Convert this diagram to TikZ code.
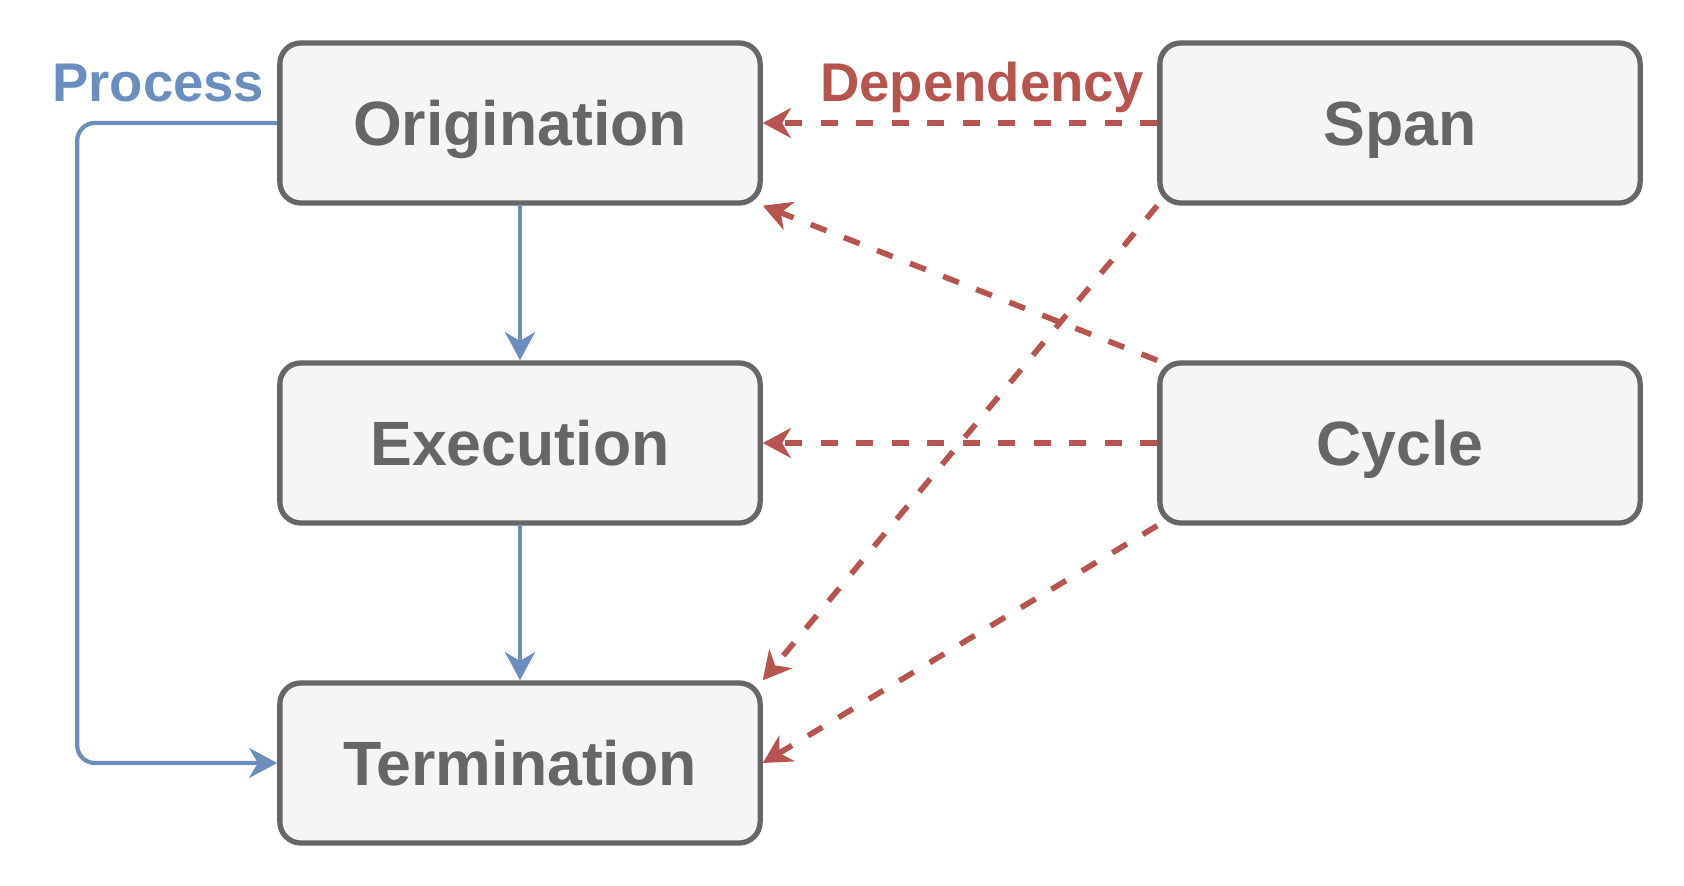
\documentclass[tikz,border=0pt]{standalone}
\usepackage{fontspec}
\setmainfont{Liberation Sans}
\usetikzlibrary{arrows.meta}
\definecolor{boxfill}{HTML}{F5F5F5}
\definecolor{boxline}{HTML}{666666}
\definecolor{procblue}{HTML}{6C8EBF}
\definecolor{depred}{HTML}{B85450}
\begin{document}
\begin{tikzpicture}[x=0.01cm, y=-0.01cm,
    stagebox/.style={draw=boxline, fill=boxfill, line width=1.5pt, rounded corners=6pt,
        minimum width=4.8cm, minimum height=1.6cm, text=boxline,
        font=\fontsize{17.8}{20}\selectfont\bfseries, text height=13pt, text depth=0pt},
    procline/.style={draw=procblue, line width=1.2pt, -{Stealth[length=8pt, width=8.5pt, inset=2.5pt]}},
    depline/.style={draw=depred, line width=1.6pt, dash pattern=on 4.8pt off 5.3pt,
        -{Stealth[length=8pt, width=8.5pt, inset=2.5pt]}}]
        \useasboundingbox (0,0) rectangle (1684,886);

        % Stages of the process
        \node[stagebox] (orig) at (520,123) {Origination};
        \node[stagebox] (exec) at (520,443) {Execution};
        \node[stagebox] (term) at (520,763) {Termination};

        % Dependencies
        \node[stagebox] (span) at (1400,123) {Span};
        \node[stagebox] (cycle) at (1400,443) {Cycle};

        % Labels
        \node[anchor=base east, inner sep=0pt, text=procblue, font=\fontsize{15.5}{18}\selectfont\bfseries] (proclabel) at (265,102) {Process};
        \node[anchor=base east, inner sep=0pt, text=depred, font=\fontsize{15.5}{18}\selectfont\bfseries] (deplabel) at (1145,102) {Dependency};

        % Process flow
        \draw[procline] (orig.south) -- (exec.north);
        \draw[procline] (exec.south) -- (term.north);
        \draw[procline, rounded corners=5pt] (orig.west) -- ++(-200,0) |- (term.west);

        % Dependency arrows
        \draw[depline] (span.west) -- (orig.east);
        \draw[depline] (cycle.north west) -- (orig.south east);
        \draw[depline] (cycle.west) -- (exec.east);
        \draw[depline] (span.south west) -- (term.north east);
        \draw[depline] (cycle.south west) -- (term.east);
    \end{tikzpicture}
\end{document}
